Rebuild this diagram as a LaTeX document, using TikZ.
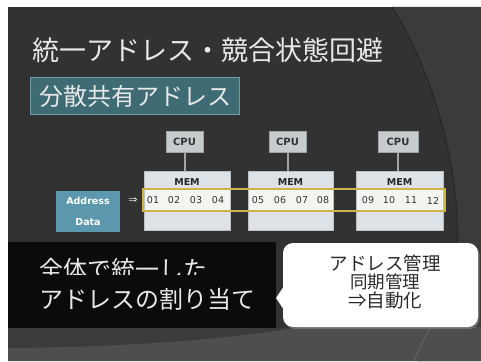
\documentclass[tikz,border=0pt]{standalone}
\usepackage{fontspec}
\setmainfont{Noto Sans CJK JP}
\newfontfamily\latinf{DejaVu Sans}
\definecolor{bgdark}{HTML}{323232}
\definecolor{bgright}{HTML}{393B3C}
\definecolor{arcc}{HTML}{262626}
\definecolor{bandmid}{HTML}{3B3B3B}
\definecolor{bandlight}{HTML}{4E4E4E}
\definecolor{titlec}{HTML}{E8E8E8}
\definecolor{subfill}{HTML}{3E6B74}
\definecolor{subborder}{HTML}{709EA6}
\definecolor{cpufill}{HTML}{C6CBCD}
\definecolor{cpuborder}{HTML}{9FA4A6}
\definecolor{memfill}{HTML}{DCE2E6}
\definecolor{bandfill}{HTML}{F3F5F1}
\definecolor{yel}{HTML}{CDB44A}
\definecolor{addrfill}{HTML}{5B98AD}
\definecolor{darktext}{HTML}{333333}
\definecolor{blackbox}{HTML}{0B0B0B}
\definecolor{calltext}{HTML}{2A2A2A}
\tikzset{
  cpubox/.style={draw=cpuborder, fill=cpufill, line width=0.8pt, minimum width=37pt, minimum height=21pt, inner sep=0pt, font=\latinf\bfseries\fontsize{10}{11}\selectfont, text=darktext},
  membox/.style={draw=cpuborder!70, fill=memfill, line width=0.6pt, minimum height=59pt, inner sep=0pt},
  memlabel/.style={font=\latinf\bfseries\fontsize{9.5}{11}\selectfont, text=black!85, inner sep=0pt},
  numlabel/.style={font=\latinf\fontsize{9.5}{11}\selectfont, text=darktext, inner sep=0pt},
  cpuline/.style={draw=cpuborder, line width=2pt},
  bigjp/.style={font=\fontsize{24}{26}\selectfont, text=titlec, inner sep=0pt, anchor=west},
  calljp/.style={font=\fontsize{18.5}{20}\selectfont, text=calltext, inner sep=0pt},
  addrtext/.style={font=\latinf\bfseries\fontsize{9.5}{11}\selectfont, text=white, inner sep=0pt},
}
\begin{document}
\begin{tikzpicture}[x=1pt,y=-1pt]
\useasboundingbox (0,0) rectangle (481,361);
\fill[white] (0,0) rectangle (481,361);
\fill[bgdark] (8,7) rectangle (481,361);
% right region and arc
\fill[bgright] (392,7) .. controls (432,70) and (462,170) .. (457,255) .. controls (453,305) and (432,340) .. (418,361) -- (481,361) -- (481,7) -- cycle;
\draw[arcc, line width=1pt] (392,7) .. controls (432,70) and (462,170) .. (457,255) .. controls (453,305) and (432,340) .. (418,361);
% bottom bands
\fill[bandmid] (8,328) rectangle (481,361);
\fill[bandlight] (8,361) -- (8,348) .. controls (150,347) and (250,336) .. (300,327) -- (481,327) -- (481,361) -- cycle;
\draw[bandlight!80!white, line width=0.6pt] (430,327) .. controls (424,340) and (418,350) .. (414,361);

% title
\node[font=\fontsize{27}{30}\selectfont, text=titlec, inner sep=0pt, anchor=west] (title) at (32,50) {統一アドレス・競合状態回避};
% subtitle
\node[draw=subborder, fill=subfill, line width=1pt, minimum width=209pt, minimum height=37pt, inner sep=0pt, font=\fontsize{24}{26}\selectfont, text=titlec] (sub) at (135,96) {分散共有アドレス};

% MEM boxes
\node[membox, minimum width=86pt] (mem1) at (187,200.5) {};
\node[membox, minimum width=85pt] (mem2) at (290.5,200.5) {};
\node[membox, minimum width=87pt] (mem3) at (399.5,200.5) {};
% CPU boxes
\node[cpubox] (cpu1) at (184.5,141.5) {CPU};
\node[cpubox] (cpu2) at (287.5,141.5) {CPU};
\node[cpubox, minimum width=40pt] (cpu3) at (398,141.5) {CPU};
\draw[cpuline] (cpu1.south) -- (cpu1.south |- mem1.north);
\draw[cpuline] (cpu2.south) -- (cpu2.south |- mem2.north);
\draw[cpuline] (cpu3.south) -- (cpu3.south |- mem3.north);
% MEM labels
\node[memlabel] (ml1) at (187,182) {MEM};
\node[memlabel] (ml2) at (290.5,182) {MEM};
\node[memlabel] (ml3) at (399.5,182) {MEM};
% address band
\fill[bandfill] (144.5,190) rectangle (229.5,210);
\fill[bandfill] (248.5,190) rectangle (332.5,210);
\fill[bandfill] (356.5,190) rectangle (442.5,210);
\draw[yel, line width=1.6pt] (143,189) rectangle (445,211);
% numbers
\foreach \n/\x in {01/153,02/174,03/196,04/218,05/258,06/280,07/302,08/323,09/368,10/389,11/411,12/433}
  \node[numlabel] (n\n) at (\x,200.5) {\n};
% address box
\node[fill=addrfill, minimum width=64pt, minimum height=41pt, inner sep=0pt] (addr) at (88,211.5) {};
\node[addrtext] (addrt) at (88,200.5) {Address};
\node[addrtext] (datat) at (88,222) {Data};
\node[font=\latinf\fontsize{11}{12}\selectfont, text=titlec, inner sep=0pt] (arr) at (133,200.5) {⇒};

% black box
\fill[blackbox] (8,242) rectangle (276,328);
\begin{scope}
\clip (8,242) rectangle (276,274.5);
\node[bigjp] (l1) at (39,269) {全体で統一した};
\end{scope}
\node[bigjp] (l2) at (39,299) {アドレスの割り当て};

% callout
\fill[black!40, opacity=0.45, rounded corners=10pt] (284.5,244.5) rectangle (479.5,329);
\fill[white, rounded corners=10pt] (283,243) rectangle (478,327);
\fill[white] (284,286) -- (276,298) -- (284,310) -- cycle;
\node[calljp] (c1) at (385,263) {アドレス管理};
\node[calljp, font=\fontsize{17.5}{19}\selectfont] (c2) at (385,282) {同期管理};
\node[calljp] (c3) at (385,300.5) {⇒自動化};
\end{tikzpicture}
\end{document}
